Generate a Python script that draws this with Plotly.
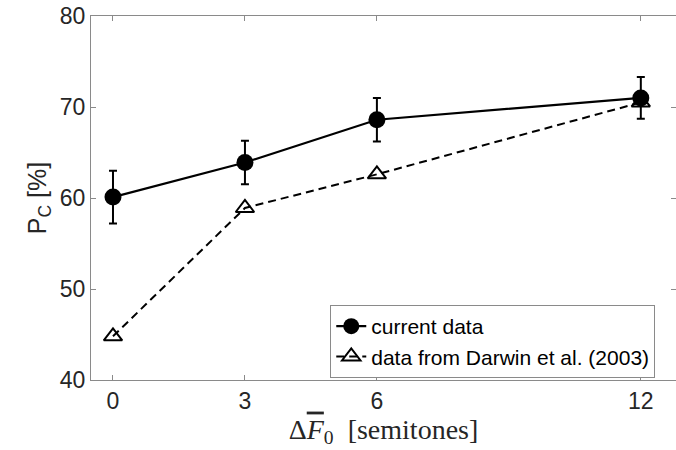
import plotly.graph_objects as go

semitones = [0, 3, 6, 12]
current_pc = [60.1, 63.9, 68.6, 71.0]
current_err = [2.9, 2.4, 2.4, 2.3]
darwin_pc = [44.8, 58.9, 62.6, 70.5]
y_ticks = [40, 50, 60, 70, 80]

fig = go.Figure()
fig.add_trace(go.Scatter(
    x=semitones, y=darwin_pc, mode="lines+markers",
    name="data from Darwin et al. (2003)",
    line=dict(color="black", width=2, dash="8px,5px"),
    marker=dict(symbol="triangle-up-open", size=16, color="black", line=dict(width=2, color="black")),
))
fig.add_trace(go.Scatter(
    x=semitones, y=current_pc, mode="lines+markers",
    name="current data",
    line=dict(color="black", width=2.2),
    marker=dict(symbol="circle", size=17, color="black"),
    error_y=dict(type="data", array=current_err, visible=True, color="black", thickness=2, width=4),
))

axis_common = dict(
    showline=True, linecolor="#8a8a8a", linewidth=1, mirror="ticks",
    ticks="inside", ticklen=5, tickcolor="#8a8a8a", showgrid=False, zeroline=False,
    automargin=False,
    tickfont=dict(family="Liberation Sans, Arial, sans-serif", size=23, color="#262626"),
)

fig.update_layout(
    width=676, height=450,
    margin=dict(l=91, r=0, t=16, b=70),
    plot_bgcolor="white", paper_bgcolor="white",
    xaxis=dict(range=[-0.5, 12.8], tickvals=semitones, ticktext=[str(s) for s in semitones],
               title=dict(text="Δ<span style=\"text-decoration:overline\"><i>F</i></span><sub>0</sub>  [semitones]",
                          font=dict(family="Liberation Serif, Times New Roman, serif", size=28, color="#262626"),
                          standoff=4),
               **axis_common),
    yaxis=dict(range=[40, 80], tickvals=y_ticks,
               title=dict(text="P<sub>C</sub> [%]",
                          font=dict(family="Liberation Sans, Arial, sans-serif", size=25, color="#262626"),
                          standoff=6),
               **axis_common),
    legend=dict(x=0.409, y=0.206, xanchor="left", yanchor="top",
                bordercolor="#8a8a8a", borderwidth=1, bgcolor="white",
                traceorder="reversed",
                font=dict(family="Liberation Sans, Arial, sans-serif", size=21, color="black"),
                tracegroupgap=0, itemwidth=30),
    showlegend=True,
)

fig.write_html("out.html")
